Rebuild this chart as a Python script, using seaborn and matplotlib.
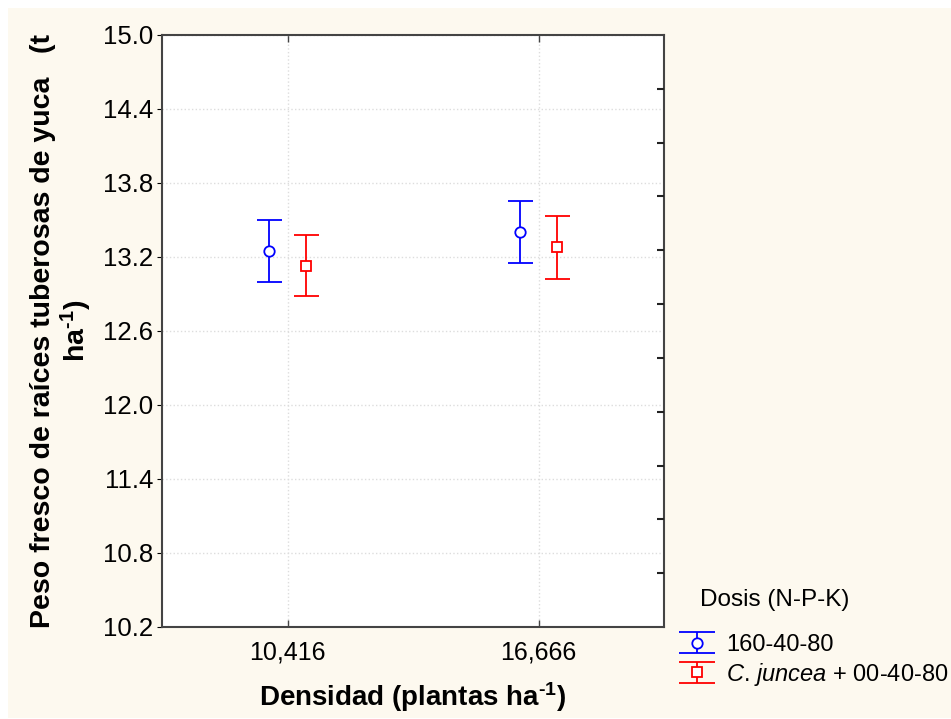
import numpy as np
import pandas as pd
import matplotlib
matplotlib.use("Agg")
import matplotlib.pyplot as plt
import seaborn as sns
from matplotlib.patches import Rectangle
from matplotlib.lines import Line2D
from matplotlib.legend_handler import HandlerErrorbar

# ---- data ----
densidades = ["10,416", "16,666"]
dosis = ["160-40-80", "$\\it{C}$. $\\it{juncea}$ + 00-40-80"]
media_160 = [13.25, 13.40]
media_cj = [13.13, 13.28]
ee_160 = [0.25, 0.25]
ee_cj = [0.25, 0.255]
yticks = [10.2, 10.8, 11.4, 12.0, 12.6, 13.2, 13.8, 14.4, 15.0]

colors = ["#0000ff", "#ff0000"]
markers = ["o", "s"]

df = pd.DataFrame({
    "Densidad": densidades * 2,
    "Dosis": [dosis[0]] * 2 + [dosis[1]] * 2,
    "Peso": media_160 + media_cj,
    "EE": ee_160 + ee_cj,
})

sns.set_style("white")
plt.rcParams["font.family"] = ["Liberation Sans", "DejaVu Sans"]
plt.rcParams["mathtext.fontset"] = "custom"
plt.rcParams["mathtext.rm"] = "Liberation Sans:bold"
plt.rcParams["mathtext.it"] = "Liberation Sans:italic"
plt.rcParams["mathtext.bf"] = "Liberation Sans:bold"
for k in ["text.color", "axes.labelcolor", "xtick.color", "ytick.color"]:
    plt.rcParams[k] = "black"

fig = plt.figure(figsize=(9.51, 7.19), dpi=100, facecolor="white")
cream = "#fdf9ef"
fig.patches.append(Rectangle((8 / 951, 1 / 719), 1 - 8 / 951, 1 - 9 / 719,
                             transform=fig.transFigure, facecolor=cream,
                             edgecolor="none", zorder=-10))
ax = fig.add_axes([162 / 951, 1 - 627 / 719, 502 / 951, 592 / 719])
ax.set_facecolor("white")

sns.pointplot(data=df, x="Densidad", y="Peso", hue="Dosis", hue_order=dosis,
              order=densidades, dodge=0.15, errorbar=None, markers=markers,
              linestyles="none", palette=colors, ax=ax, legend=False)

handles = []
for line, d, c, m in zip(list(ax.lines[:2]), dosis, colors, markers):
    xs = line.get_xdata()
    ys = line.get_ydata()
    line.set_visible(False)
    sub = df[df["Dosis"] == d]
    eb = ax.errorbar(xs, ys, yerr=sub["EE"].values, fmt=m, color=c,
                     mfc="white", mec=c, ms=7.5 if m == "o" else 7,
                     mew=1.3, elinewidth=1.3, capsize=9, capthick=1.3,
                     zorder=5, label=d)
    handles.append(eb)

ax.set_xlim(-0.5, 1.5)
ax.set_ylim(10.2, 15.0)
ax.set_yticks(yticks)
ax.set_yticklabels([f"{v:.1f}" for v in yticks])
ax.grid(True, color="#dddddd", linestyle=":", linewidth=1)
ax.set_axisbelow(True)

for s in ax.spines.values():
    s.set_visible(True)
    s.set_color("#444444")
    s.set_linewidth(1.5)

ax.tick_params(axis="y", left=False, right=False, labelsize=18.5, pad=3)
ax.tick_params(axis="x", bottom=True, top=True, direction="in", length=5,
               width=1, color="#444444", labelsize=18, pad=10)
# right side inner ticks
ax2 = ax.twinx()
ax2.set_ylim(10.2, 15.0)
ax2.set_yticks(np.linspace(10.2, 15.0, 12)[1:-1])
ax2.tick_params(axis="y", right=True, direction="in", length=5, width=1.5,
                color="#222222", labelright=False)
for s in ax2.spines.values():
    s.set_visible(False)

ax.set_xlabel("Densidad (plantas ha$^{\\text{-1}}$)", fontsize=20,
              fontweight="bold", labelpad=11)
ax.set_ylabel("Peso fresco de raíces tuberosas de yuca   (t\nha$^{\\text{-1}}$)",
              fontsize=20.5, fontweight="bold", labelpad=6, linespacing=1.12)

fig.text(700 / 951, 1 - 600 / 719, "Dosis (N-P-K)", fontsize=17.5,
         ha="left", va="center")
leg = fig.legend(handles=handles, labels=dosis,
                 loc="upper left", bbox_to_anchor=(679 / 951, 1 - 634 / 719),
                 frameon=False, fontsize=17,
                 handlelength=1.5, handletextpad=0.5, labelspacing=0.2,
                 borderaxespad=0, borderpad=0,
                 handler_map={type(handles[0]): HandlerErrorbar(xerr_size=0.5, yerr_size=0.45)})
for ln in leg.findobj(Line2D):
    if ln.get_marker() == "_":
        ln.set_markersize(26)

fig.savefig("out.png", dpi=100, facecolor=fig.get_facecolor())
